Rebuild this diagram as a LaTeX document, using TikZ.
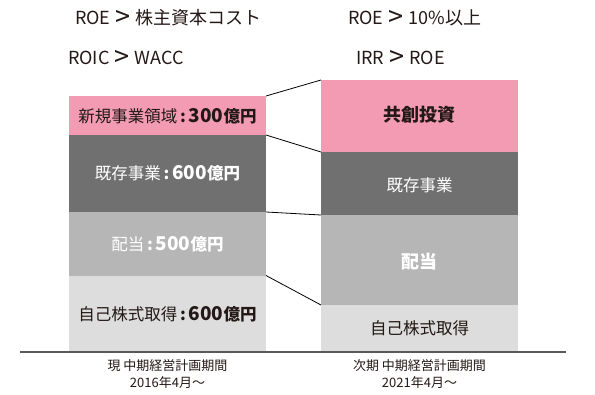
\documentclass[tikz,border=0pt]{standalone}
\usepackage{fontspec}
\setmainfont{Noto Sans CJK JP}
\definecolor{pinkc}{HTML}{F29BB3}
\definecolor{darkc}{HTML}{707070}
\definecolor{midc}{HTML}{B5B6B5}
\definecolor{lightc}{HTML}{DCDDDC}
\definecolor{txt}{HTML}{231815}
\newcommand{\bigGt}{\hspace{5pt}\raisebox{-1.5pt}{\fontsize{27}{20}\selectfont >}\hspace{5pt}}
\begin{document}
\begin{tikzpicture}[x=1pt,y=-1pt,
  lbl/.style={inner sep=0pt,font=\fontsize{16.5}{18}\selectfont},
  toptxt/.style={inner sep=0pt,anchor=west,text=txt,font=\fontsize{18}{20}\selectfont},
  foot/.style={inner sep=0pt,align=center,text=txt,font=\fontsize{13}{17}\selectfont},
  conn/.style={draw=black,line width=0.8pt}]
\useasboundingbox (0,0) rectangle (595,394);
% top texts
\node[toptxt] (t1) at (75,18) {ROE\bigGt 株主資本コスト};
\node[toptxt] (t2) at (68,58) {ROIC\bigGt WACC};
\node[toptxt] (t3) at (348,18) {ROE\bigGt 10\%以上};
\node[toptxt] (t4) at (356,58) {IRR\bigGt ROE};
% left column
\coordinate (L1a) at (266,96); \coordinate (L1b) at (266,135);
\coordinate (L2b) at (266,212); \coordinate (L3b) at (266,275.5);
\fill[pinkc] (69,96) rectangle (266,135);
\fill[darkc] (69,135) rectangle (266,212);
\fill[midc] (69,212) rectangle (266,275.5);
\fill[lightc] (69,275.5) rectangle (266,352);
\node[lbl,text=txt] (l1) at (167.5,116) {新規事業領域\,\textbf{:\,{\fontsize{19}{18}\selectfont 300}億円}};
\node[lbl,text=white] (l2) at (167.5,173) {既存事業\,\textbf{:\,{\fontsize{19}{18}\selectfont 600}億円}};
\node[lbl,text=white] (l3) at (167.5,244) {配当\,\textbf{:\,{\fontsize{19}{18}\selectfont 500}億円}};
\node[lbl,text=txt] (l4) at (167.5,314) {自己株式取得\,\textbf{:\,{\fontsize{19}{18}\selectfont 600}億円}};
% right column
\coordinate (R1a) at (321,80); \coordinate (R1b) at (321,152);
\coordinate (R2b) at (321,215); \coordinate (R3b) at (321,305);
\fill[pinkc] (321,80) rectangle (518,152);
\fill[darkc] (321,152) rectangle (518,215);
\fill[midc] (321,215) rectangle (518,305);
\fill[lightc] (321,305) rectangle (518,352);
\node[lbl,text=txt,font=\fontsize{18}{18}\selectfont\bfseries] (r1) at (419.5,115) {共創投資};
\node[lbl,text=white] (r2) at (419.5,185) {既存事業};
\node[lbl,text=white,font=\fontsize{18}{18}\selectfont\bfseries] (r3) at (419.5,262) {配当};
\node[lbl,text=txt] (r4) at (419.5,328) {自己株式取得};
% connectors
\draw[conn] (L1a) -- (R1a);
\draw[conn] (L1b) -- (R1b);
\draw[conn] (L2b) -- (R2b);
\draw[conn] (L3b) -- (R3b);
% baseline
\coordinate (bl) at (20,352); \coordinate (br) at (566,352);
\draw[line width=1.2pt,draw=black!65] (bl) -- (br);
% footers
\node[foot] (f1) at (167.5,374) {現 中期経営計画期間\\2016年4月～};
\node[foot] (f2) at (419.5,374) {次期 中期経営計画期間\\2021年4月～};
\end{tikzpicture}
\end{document}
